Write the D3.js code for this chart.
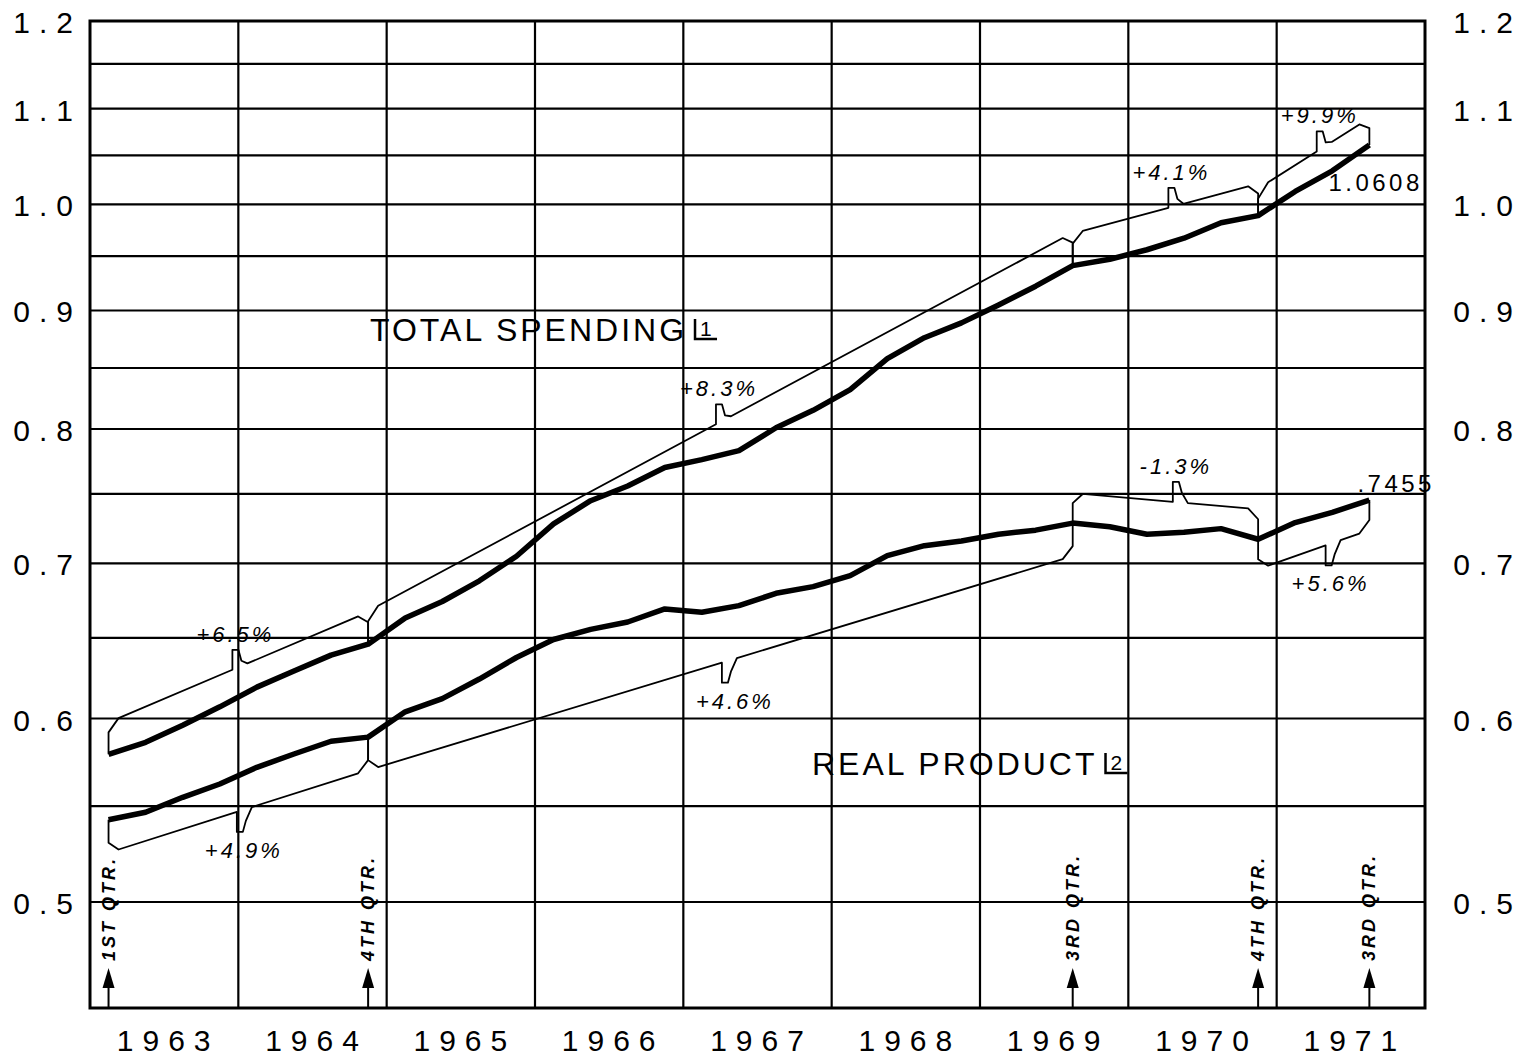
<!DOCTYPE html>
<html>
<head>
<meta charset="utf-8">
<script src="https://cdn.jsdelivr.net/npm/d3@7"></script>
<style>
  body { margin: 0; background: #fff; }
  svg { display: block; }
  text { font-family: 'Liberation Sans', Arial, sans-serif; fill: #000; }
</style>
</head>
<body>
<svg id="chart" width="1532" height="1061"></svg>
<script>
// quarterly observations, 1963 I to 1971 III
var quarters = ['1963Q1', '1963Q2', '1963Q3', '1963Q4', '1964Q1', '1964Q2', '1964Q3', '1964Q4',
    '1965Q1', '1965Q2', '1965Q3', '1965Q4', '1966Q1', '1966Q2', '1966Q3', '1966Q4',
    '1967Q1', '1967Q2', '1967Q3', '1967Q4', '1968Q1', '1968Q2', '1968Q3', '1968Q4',
    '1969Q1', '1969Q2', '1969Q3', '1969Q4', '1970Q1', '1970Q2', '1970Q3', '1970Q4',
    '1971Q1', '1971Q2', '1971Q3'];

var years = [1963, 1964, 1965, 1966, 1967, 1968, 1969, 1970, 1971];

var totalSpending = [0.579, 0.586, 0.596, 0.607, 0.619, 0.629, 0.639, 0.646,
    0.663, 0.674, 0.688, 0.705, 0.728, 0.745, 0.756, 0.770,
    0.776, 0.783, 0.801, 0.815, 0.832, 0.858, 0.876, 0.889,
    0.905, 0.922, 0.941, 0.947, 0.956, 0.967, 0.982, 0.989,
    1.013, 1.034, 1.0608];

var realProduct = [0.5426, 0.5466, 0.5548, 0.5622, 0.5716, 0.5792, 0.5866, 0.589,
    0.604, 0.612, 0.624, 0.6375, 0.649, 0.6556, 0.6604, 0.669,
    0.6668, 0.6712, 0.6795, 0.684, 0.6915, 0.7054, 0.7124, 0.7158,
    0.7206, 0.7235, 0.7286, 0.726, 0.7206, 0.722, 0.7246, 0.717,
    0.729, 0.7364, 0.7455];

var gridValues = [0.5, 0.55, 0.6, 0.65, 0.7, 0.75, 0.8, 0.85, 0.9, 0.95, 1.0, 1.05, 1.1, 1.15, 1.2];
var axisValues = [0.5, 0.6, 0.7, 0.8, 0.9, 1.0, 1.1, 1.2];

// growth brackets between turning points
var trendSeries = ['total', 'total', 'total', 'total', 'real', 'real', 'real', 'real'];
var trendFrom = ['1963Q1', '1964Q4', '1969Q3', '1970Q4', '1963Q1', '1964Q4', '1969Q3', '1970Q4'];
var trendTo = ['1964Q4', '1969Q3', '1970Q4', '1971Q3', '1964Q4', '1969Q3', '1970Q4', '1971Q3'];
var trendLabels = ['+6.5%', '+8.3%', '+4.1%', '+9.9%', '+4.9%', '+4.6%', '-1.3%', '+5.6%'];

var markerQuarters = ['1963Q1', '1964Q4', '1969Q3', '1970Q4', '1971Q3'];
var markerLabels = ['1ST QTR.', '4TH QTR.', '3RD QTR.', '4TH QTR.', '3RD QTR.'];

var endLabels = ['1.0608', '.7455'];

// layout of the brackets: side (-1 above, 1 below), offset px, notch position (years), label shift
var trendLayout = [
    { side: -1, off: 32, notch: 1963.96, dx: 0 },
    { side: -1, off: 33, notch: 1967.22, dx: 0 },
    { side: -1, off: 32, notch: 1970.27, dx: 0 },
    { side: -1, off: 27, notch: 1971.27, dx: 0 },
    { side: 1, off: 33, notch: 1963.99, dx: 4 },
    { side: 1, off: 33, notch: 1967.26, dx: 10 },
    { side: -1, off: 30, notch: 1970.30, dx: 0 },
    { side: 1, off: 30, notch: 1971.33, dx: 2 }
];

var svg = d3.select('#chart');
var plotLeft = 90, plotRight = 1425, plotTop = 21, plotBottom = 1008;

var x = d3.scaleLinear().domain([1963, 1972]).range([plotLeft, plotRight]);
var y = d3.scaleLog().domain([0.45, 1.2]).range([plotBottom, plotTop]);

function qTime(q) {
    return +q.slice(0, 4) + (+q.slice(5) - 0.5) / 4;
}

// grid
var grid = svg.append('g').attr('stroke', '#000').attr('stroke-width', 2.2);
grid.selectAll('line.h')
    .data(gridValues)
    .enter().append('line')
    .attr('x1', plotLeft).attr('x2', plotRight)
    .attr('y1', function (d) { return y(d); })
    .attr('y2', function (d) { return y(d); });

grid.selectAll('line.v')
    .data(years.slice(1))
    .enter().append('line')
    .attr('y1', plotTop).attr('y2', plotBottom)
    .attr('x1', function (d) { return x(d); })
    .attr('x2', function (d) { return x(d); });

svg.append('rect')
    .attr('x', plotLeft).attr('y', plotTop)
    .attr('width', plotRight - plotLeft).attr('height', plotBottom - plotTop)
    .attr('fill', 'none').attr('stroke', '#000').attr('stroke-width', 3);

// y axis labels, both sides
var fmt = d3.format('.1f');
var yLabels = svg.append('g').attr('font-size', 30).attr('letter-spacing', 9);
yLabels.selectAll('text.l')
    .data(axisValues)
    .enter().append('text')
    .attr('x', 73 + 9)
    .attr('y', function (d) { return y(d) + 12; })
    .attr('text-anchor', 'end')
    .text(function (d) { return fmt(d); });
yLabels.selectAll('text.r')
    .data(axisValues)
    .enter().append('text')
    .attr('x', 1513 + 9)
    .attr('y', function (d) { return y(d) + 12; })
    .attr('text-anchor', 'end')
    .text(function (d) { return fmt(d); });

// year labels
svg.append('g').attr('font-size', 30).attr('letter-spacing', 9)
    .selectAll('text')
    .data(years)
    .enter().append('text')
    .attr('x', function (d) { return x(d + 0.5) + 4; })
    .attr('y', 1051)
    .attr('text-anchor', 'middle')
    .text(function (d) { return d; });

// quarter markers
var markers = svg.append('g').selectAll('g')
    .data(markerQuarters)
    .enter().append('g')
    .attr('transform', function (d) { return 'translate(' + x(qTime(d)) + ',0)'; });
markers.append('line')
    .attr('x1', 0).attr('x2', 0)
    .attr('y1', plotBottom).attr('y2', 985)
    .attr('stroke', '#000').attr('stroke-width', 2);
markers.append('path')
    .attr('d', 'M-6,988L6,988L0,968Z')
    .attr('fill', '#000');
markers.append('text')
    .attr('transform', 'translate(6,961) rotate(-90)')
    .attr('font-family', "'DejaVu Sans Condensed', 'DejaVu Sans', sans-serif")
    .attr('font-stretch', 'condensed')
    .attr('font-weight', 'bold')
    .attr('font-style', 'italic')
    .attr('font-size', 18)
    .attr('letter-spacing', 3)
    .text(function (d, i) { return markerLabels[i]; });

// growth brackets
function bracketPoints(i) {
    var s = trendSeries[i] === 'total' ? totalSpending : realProduct;
    var lay = trendLayout[i];
    var a = quarters.indexOf(trendFrom[i]),
        b = quarters.indexOf(trendTo[i]);
    var x0 = x(qTime(quarters[a])), x1 = x(qTime(quarters[b])),
        y0 = y(s[a]), y1 = y(s[b]);
    var dir = lay.side, h = 10;
    function L(px) { return y0 + (y1 - y0) * (px - x0) / (x1 - x0) + dir * lay.off; }
    var nx = x(lay.notch);
    return {
        tipX: nx + 3,
        tipY: L(nx) + dir * 20,
        points: [[x0, y0], [x0, L(x0) - dir * h], [x0 + h, L(x0 + h)],
            [nx, L(nx)], [nx, L(nx) + dir * 20], [nx + 6, L(nx) + dir * 20],
            [nx + 9, L(nx) + dir * 9], [nx + 15, L(nx + 15)],
            [x1 - h, L(x1 - h)], [x1, L(x1) - dir * h], [x1, y1]]
    };
}

var brackets = trendLabels.map(function (lbl, i) { return bracketPoints(i); });
var thin = d3.line();

svg.append('g').selectAll('path')
    .data(brackets)
    .enter().append('path')
    .attr('d', function (d) { return thin(d.points); })
    .attr('fill', 'none')
    .attr('stroke', '#000')
    .attr('stroke-width', 1.8)
    .attr('stroke-linejoin', 'round');

svg.append('g')
    .attr('font-size', 22).attr('font-style', 'italic').attr('letter-spacing', 3)
    .selectAll('text')
    .data(brackets)
    .enter().append('text')
    .attr('x', function (d, i) { return d.tipX + trendLayout[i].dx; })
    .attr('y', function (d, i) { return trendLayout[i].side < 0 ? d.tipY - 8 : d.tipY + 26; })
    .attr('text-anchor', 'middle')
    .text(function (d, i) { return trendLabels[i]; });

// the two series
var thick = d3.line()
    .x(function (d, i) { return x(qTime(quarters[i])); })
    .y(function (d) { return y(d); });

svg.append('g').selectAll('path')
    .data([totalSpending, realProduct])
    .enter().append('path')
    .attr('d', thick)
    .attr('fill', 'none')
    .attr('stroke', '#000')
    .attr('stroke-width', 5.5)
    .attr('stroke-linejoin', 'round');

// end values
var last = quarters.length - 1;
svg.append('text')
    .attr('x', x(qTime(quarters[last])) - 41)
    .attr('y', y(totalSpending[last]) + 46)
    .attr('font-size', 24).attr('letter-spacing', 3.5)
    .text(endLabels[0]);
svg.append('text')
    .attr('x', x(qTime(quarters[last])) - 12)
    .attr('y', y(realProduct[last]) - 8)
    .attr('font-size', 24).attr('letter-spacing', 3.5)
    .text(endLabels[1]);

// series titles with footnote marks
function title(tx, ty, str, note, spacing) {
    var t = svg.append('text')
        .attr('x', tx).attr('y', ty)
        .attr('font-size', 32).attr('letter-spacing', spacing)
        .text(str);
    var w = t.node().getComputedTextLength();
    var nx = tx + w + 8;
    svg.append('path')
        .attr('d', 'M' + nx + ',' + (ty - 22) + 'V' + (ty - 2) + 'H' + (nx + 22))
        .attr('fill', 'none').attr('stroke', '#000').attr('stroke-width', 2.5);
    svg.append('text')
        .attr('x', nx + 5).attr('y', ty - 5)
        .attr('font-size', 21)
        .text(note);
}
title(370, 341, 'TOTAL SPENDING', '1', 3);
title(812, 775, 'REAL PRODUCT', '2', 3);
</script>
</body>
</html>
